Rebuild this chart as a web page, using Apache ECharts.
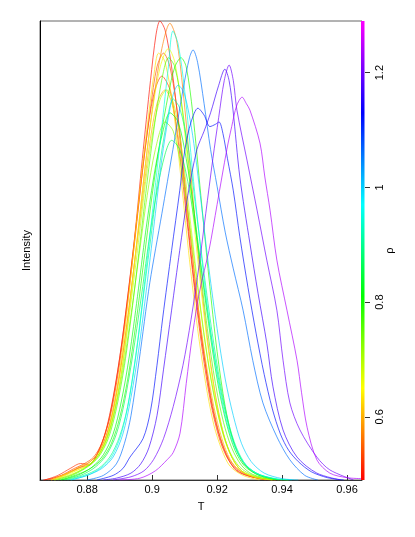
<!DOCTYPE html>
<html>
<head>
<meta charset="utf-8">
<script src="https://cdn.jsdelivr.net/npm/echarts@6/dist/echarts.min.js"></script>
<style>
  html, body { margin: 0; padding: 0; background: #fff; }
  #chart { width: 415px; height: 537px; }
</style>
</head>
<body>
<div id="chart"></div>
<script>
// rho value of each curve (colour scale on the right)
const rho = [0.50, 0.52, 0.54, 0.57, 0.60, 0.63, 0.66, 0.69, 0.72, 0.76, 0.79,
  0.82, 0.86, 0.90, 0.95, 1.00, 1.06, 1.12, 1.17, 1.20, 1.24]
const rhoMin = 0.49
const rhoMax = 1.29
const tTicks = [0.88, 0.9, 0.92, 0.94, 0.96]
const rhoTicks = [0.6, 0.8, 1, 1.2]

// intensity curves, [T, intensity]
const d050 = [[0.8665,0],[0.8700,0.5],[0.8740,1.5],[0.8770,2.5],[0.8790,3],[0.8810,3.3],[0.8830,5.5],[0.8850,9],[0.8870,14],[0.8895,24],[0.8920,37],[0.8945,52],[0.8970,70],[0.8995,87],[0.9012,97],[0.9024,100],[0.9040,98],[0.9060,90],[0.9085,75],[0.9110,56],[0.9135,40],[0.9160,27],[0.9185,16],[0.9210,9],[0.9235,4.5],[0.9260,2],[0.9300,0.8],[0.9350,0.2],[0.9400,0]]
const d052 = [[0.8670,0],[0.8710,1],[0.8750,2.6],[0.8780,3.6],[0.8805,3.4],[0.8830,5.5],[0.8855,10],[0.8880,18],[0.8905,29],[0.8930,43],[0.8955,58],[0.8980,73],[0.9005,84],[0.9030,88],[0.9055,85],[0.9080,74],[0.9105,58],[0.9130,42],[0.9155,28],[0.9180,17],[0.9205,9.5],[0.9230,5],[0.9260,2.2],[0.9300,0.8],[0.9360,0]]
const d054 = [[0.8680,0],[0.8720,1],[0.8760,2.5],[0.8790,3.5],[0.8820,5],[0.8845,8],[0.8870,13.5],[0.8895,23],[0.8920,36],[0.8945,51],[0.8970,67],[0.8995,81],[0.9015,90],[0.9035,93],[0.9055,90],[0.9080,79],[0.9105,62],[0.9130,45],[0.9155,30],[0.9180,18.5],[0.9205,10.5],[0.9230,5.5],[0.9260,2.5],[0.9300,0.9],[0.9350,0]]
const d057 = [[0.8690,0],[0.8730,1],[0.8770,2.5],[0.8800,3.5],[0.8830,5.5],[0.8855,9],[0.8880,15],[0.8905,25],[0.8930,38],[0.8955,53],[0.8980,69],[0.9005,83],[0.9030,94],[0.9055,99.5],[0.9075,96],[0.9095,85],[0.9120,66],[0.9145,47],[0.9170,31],[0.9195,18.5],[0.9220,10],[0.9245,5],[0.9275,2],[0.9320,0.6],[0.9380,0]]
const d060 = [[0.8690,0],[0.8740,1.5],[0.8780,3],[0.8810,4],[0.8840,6.5],[0.8865,11],[0.8890,19],[0.8915,30],[0.8940,44],[0.8965,58],[0.8990,72],[0.9015,82],[0.9040,85],[0.9065,81],[0.9090,70],[0.9115,55],[0.9140,39],[0.9165,26],[0.9190,16],[0.9215,9],[0.9240,4.5],[0.9270,2],[0.9320,0.5],[0.9370,0]]
const d063 = [[0.8690,0],[0.8740,1.5],[0.8780,2.5],[0.8810,3.5],[0.8840,6],[0.8865,10.5],[0.8890,19],[0.8915,32],[0.8940,48],[0.8965,65],[0.8990,80],[0.9005,88],[0.9020,93],[0.9040,91],[0.9065,81],[0.9090,65],[0.9115,48],[0.9140,33],[0.9165,21],[0.9190,12],[0.9215,6.5],[0.9240,3],[0.9280,1],[0.9330,0]]
const d066 = [[0.8700,0],[0.8750,1.5],[0.8790,2.8],[0.8820,4],[0.8850,7],[0.8875,12],[0.8900,21],[0.8925,34],[0.8950,50],[0.8975,66],[0.9000,80],[0.9025,90],[0.9050,94],[0.9070,91],[0.9095,79],[0.9120,62],[0.9145,45],[0.9170,30],[0.9195,18],[0.9220,10],[0.9245,5],[0.9275,2],[0.9320,0.6],[0.9370,0]]
const d069 = [[0.8700,0],[0.8750,1.2],[0.8790,2.5],[0.8825,4.5],[0.8855,8],[0.8880,14],[0.8905,23],[0.8930,36],[0.8955,50],[0.8980,65],[0.9005,77],[0.9025,83],[0.9045,85],[0.9070,81],[0.9095,70],[0.9120,55],[0.9145,40],[0.9170,27],[0.9195,17],[0.9220,9.5],[0.9245,5],[0.9275,2],[0.9320,0.6],[0.9380,0]]
const d072 = [[0.8700,0],[0.8755,1.2],[0.8800,3],[0.8830,5],[0.8860,9],[0.8885,15],[0.8910,24],[0.8935,36],[0.8960,49],[0.8985,62],[0.9010,72],[0.9040,78],[0.9065,76],[0.9090,68],[0.9115,56],[0.9140,42],[0.9165,29],[0.9190,18.5],[0.9215,11],[0.9240,6],[0.9270,2.8],[0.9310,1],[0.9370,0]]
const d076 = [[0.8710,0],[0.8760,1.2],[0.8800,2.8],[0.8835,5],[0.8865,9],[0.8890,15.5],[0.8915,25],[0.8940,38],[0.8965,53],[0.8990,68],[0.9015,81],[0.9035,89],[0.9050,92],[0.9070,90],[0.9095,80],[0.9120,64],[0.9145,48],[0.9170,33],[0.9195,21],[0.9220,12.5],[0.9245,7],[0.9275,3.2],[0.9310,1.2],[0.9370,0.2],[0.9420,0]]
const d079 = [[0.8720,0],[0.8770,1.2],[0.8810,2.5],[0.8845,4.5],[0.8875,8],[0.8900,13.5],[0.8925,22],[0.8950,34],[0.8975,48],[0.9000,62],[0.9025,74],[0.9050,84],[0.9070,90],[0.9089,92],[0.9105,90],[0.9125,80],[0.9150,62],[0.9175,44],[0.9200,28],[0.9225,16],[0.9250,8.5],[0.9280,3.8],[0.9320,1.3],[0.9380,0.2],[0.9420,0]]
const d082 = [[0.8720,0],[0.8770,1],[0.8815,2.8],[0.8850,5.5],[0.8880,10],[0.8905,17],[0.8930,27],[0.8955,40],[0.8980,54],[0.9005,66],[0.9030,75],[0.9055,80],[0.9080,78],[0.9105,70],[0.9130,58],[0.9155,44],[0.9180,31],[0.9205,20],[0.9230,12],[0.9255,6.5],[0.9285,3],[0.9330,1],[0.9390,0]]
const d086 = [[0.8730,0],[0.8780,1],[0.8825,2.8],[0.8860,5.5],[0.8890,10],[0.8915,17],[0.8940,27],[0.8965,39],[0.8990,52],[0.9015,63],[0.9040,71],[0.9060,74],[0.9085,72],[0.9110,65],[0.9135,54],[0.9160,42],[0.9185,30],[0.9210,20],[0.9235,12],[0.9260,6.5],[0.9290,3],[0.9330,1.2],[0.9390,0]]
const d090 = [[0.8740,0],[0.8790,1],[0.8835,2.5],[0.8870,5],[0.8900,9.5],[0.8925,16],[0.8950,27],[0.8975,41],[0.9000,55],[0.9020,67],[0.9045,78],[0.9065,83],[0.9085,81],[0.9110,73],[0.9135,59],[0.9160,45],[0.9185,32],[0.9210,21],[0.9235,12.5],[0.9260,7],[0.9290,3.2],[0.9335,1],[0.9400,0]]
const d095 = [[0.8750,0],[0.8800,1],[0.8840,2.5],[0.8875,5],[0.8905,10],[0.8930,18],[0.8955,30],[0.8980,45],[0.9005,61],[0.9030,77],[0.9050,90],[0.9064,97.8],[0.9080,95],[0.9100,85],[0.9125,67],[0.9150,50],[0.9175,35],[0.9200,23],[0.9225,14],[0.9250,8],[0.9280,4],[0.9320,1.5],[0.9380,0.3],[0.9430,0]]
const d100 = [[0.8750,0],[0.8800,1],[0.8845,2.5],[0.8880,5],[0.8910,10],[0.8935,18],[0.8960,29],[0.8985,43],[0.9010,58],[0.9030,70],[0.9050,79],[0.9065,84],[0.9080,86],[0.9100,84],[0.9125,75],[0.9150,61],[0.9175,46],[0.9200,33],[0.9225,22],[0.9250,14],[0.9275,8],[0.9305,4],[0.9345,1.5],[0.9400,0.3],[0.9450,0]]
const d106 = [[0.8800,0],[0.8850,1],[0.8890,3.5],[0.8915,8],[0.8935,14],[0.8960,26],[0.8993,43],[0.9030,58],[0.9064,72],[0.9095,85],[0.9115,92],[0.9126,93.7],[0.9140,91],[0.9160,82],[0.9180,72],[0.9200,64],[0.9225,54],[0.9250,46],[0.9280,37],[0.9310,26],[0.9341,16.8],[0.9384,9.4],[0.9424,4.4],[0.9470,1],[0.9510,0]]
const d112 = [[0.8830,0],[0.8880,1],[0.8910,2.5],[0.8932,5],[0.8972,9],[0.8995,15],[0.9015,25],[0.9033,35.5],[0.9060,50],[0.9085,63],[0.9101,72],[0.9120,78],[0.9141,81],[0.9160,79.5],[0.9178,77],[0.9195,77.5],[0.9206,78],[0.9218,75.5],[0.9232,70],[0.9250,63],[0.9270,53],[0.9295,42],[0.9320,32],[0.9345,23],[0.9370,15.5],[0.9395,10],[0.9420,6.5],[0.9450,4],[0.9490,1.8],[0.9540,0.5],[0.9590,0]]
const d117 = [[0.8850,0],[0.8890,0.4],[0.8935,1.5],[0.8965,3.5],[0.8990,7],[0.9015,14],[0.9035,24],[0.9060,37],[0.9085,50],[0.9110,62],[0.9138,72],[0.9160,76],[0.9180,80],[0.9205,86],[0.9224,89.5],[0.9237,87],[0.9249,80.6],[0.9270,66],[0.9301,51.6],[0.9326,40.7],[0.9353,29.8],[0.9372,20.3],[0.9403,10.9],[0.9446,5],[0.9507,1.5],[0.9580,0]]
const d120 = [[0.8880,0],[0.8935,0.7],[0.8975,2],[0.9005,4.5],[0.9035,9],[0.9065,16],[0.9095,25],[0.9120,35],[0.9145,47],[0.9165,58],[0.9187,70],[0.9205,79],[0.9222,87],[0.9237,90.4],[0.9250,87],[0.9261,80.6],[0.9292,69.7],[0.9323,58.8],[0.9353,47.9],[0.9384,37],[0.9403,26.1],[0.9424,16.8],[0.9455,10.9],[0.9507,5],[0.9547,2.2],[0.9620,0]]
const d124 = [[0.8900,0],[0.8963,0.4],[0.9010,2],[0.9046,4.4],[0.9065,6],[0.9086,10.2],[0.9105,21],[0.9125,32],[0.9147,41.4],[0.9175,50],[0.9200,60],[0.9230,72],[0.9245,77],[0.9260,81.5],[0.9277,83.4],[0.9290,82],[0.9301,80.6],[0.9332,73.4],[0.9347,66],[0.9363,58.8],[0.9384,47.9],[0.9415,37],[0.9446,26.1],[0.9460,19],[0.9477,11.5],[0.9507,4.4],[0.9547,1.5],[0.9600,0.5],[0.9646,0.3]]

const curves = [d050, d052, d054, d057, d060, d063, d066, d069, d072, d076, d079,
  d082, d086, d090, d095, d100, d106, d112, d117, d120, d124]

// rainbow: red at rhoMin, magenta at rhoMax
function hueColor(h) {
  const x = 1 - Math.abs((h / 60) % 2 - 1)
  let rgb
  if (h < 60) rgb = [1, x, 0]
  else if (h < 120) rgb = [x, 1, 0]
  else if (h < 180) rgb = [0, 1, x]
  else if (h < 240) rgb = [0, x, 1]
  else if (h < 300) rgb = [x, 0, 1]
  else rgb = [1, 0, x]
  return '#' + rgb.map(v => Math.round(v * 255).toString(16).padStart(2, '0')).join('')
}
function rhoColor(r) {
  return hueColor((r - rhoMin) / (rhoMax - rhoMin) * 300)
}

const chart = echarts.init(document.getElementById('chart'))
const font = 'Liberation Sans, Arial, sans-serif'
const fmt = v => String(+(+v).toFixed(3))

chart.setOption({
  animation: false,
  textStyle: {fontFamily: font},
  grid: {left: 40, right: 53, top: 21, bottom: 57, show: true, borderColor: '#666', borderWidth: 1},
  xAxis: {
    type: 'value', min: 0.8655, max: 0.9646,
    name: 'T', nameLocation: 'middle', nameGap: 21, nameMoveOverlap: false,
    nameTextStyle: {fontSize: 11, color: '#000', fontFamily: font},
    axisLine: {show: true, lineStyle: {color: '#333', width: 1}},
    axisTick: {show: true, inside: true, length: 5, customValues: tTicks, lineStyle: {color: '#333'}},
    axisLabel: {customValues: tTicks, formatter: fmt, fontSize: 11, color: '#000', margin: 4, fontFamily: font},
    splitLine: {show: false}
  },
  yAxis: [{
    type: 'value', min: 0, max: 100,
    name: 'Intensity', nameLocation: 'middle', nameGap: 8, nameRotate: 90, nameMoveOverlap: false,
    nameTextStyle: {fontSize: 11, color: '#000', fontFamily: font},
    axisLine: {show: true, lineStyle: {color: '#000', width: 1}},
    axisTick: {show: false}, axisLabel: {show: false}, splitLine: {show: false}
  }, {
    type: 'value', min: rhoMin, max: rhoMax, position: 'right', offset: 3,
    name: 'ρ', nameLocation: 'middle', nameGap: 19, nameRotate: 90, nameMoveOverlap: false,
    nameTextStyle: {fontSize: 11, color: '#000', fontFamily: font},
    axisLine: {show: false},
    axisTick: {show: true, length: 5, customValues: rhoTicks, lineStyle: {color: '#333'}},
    axisLabel: {customValues: rhoTicks, rotate: 90, formatter: fmt, fontSize: 11, color: '#000', margin: 9, fontFamily: font},
    splitLine: {show: false}
  }],
  graphic: [{
    type: 'rect', z: 100,
    shape: {x: 361, y: 21, width: 3.5, height: 459},
    style: {
      fill: new echarts.graphic.LinearGradient(0, 1, 0, 0, [0, 1, 2, 3, 4, 5].map(k => ({
        offset: k / 5, color: hueColor(k * 60)
      })))
    }
  }],
  series: curves.map((d, i) => ({
    type: 'line',
    data: d,
    showSymbol: false,
    smooth: 0.3,
    silent: true,
    lineStyle: {width: 0.9, color: rhoColor(rho[i]), opacity: 0.75},
    itemStyle: {color: rhoColor(rho[i])}
  }))
})
</script>
</body>
</html>
